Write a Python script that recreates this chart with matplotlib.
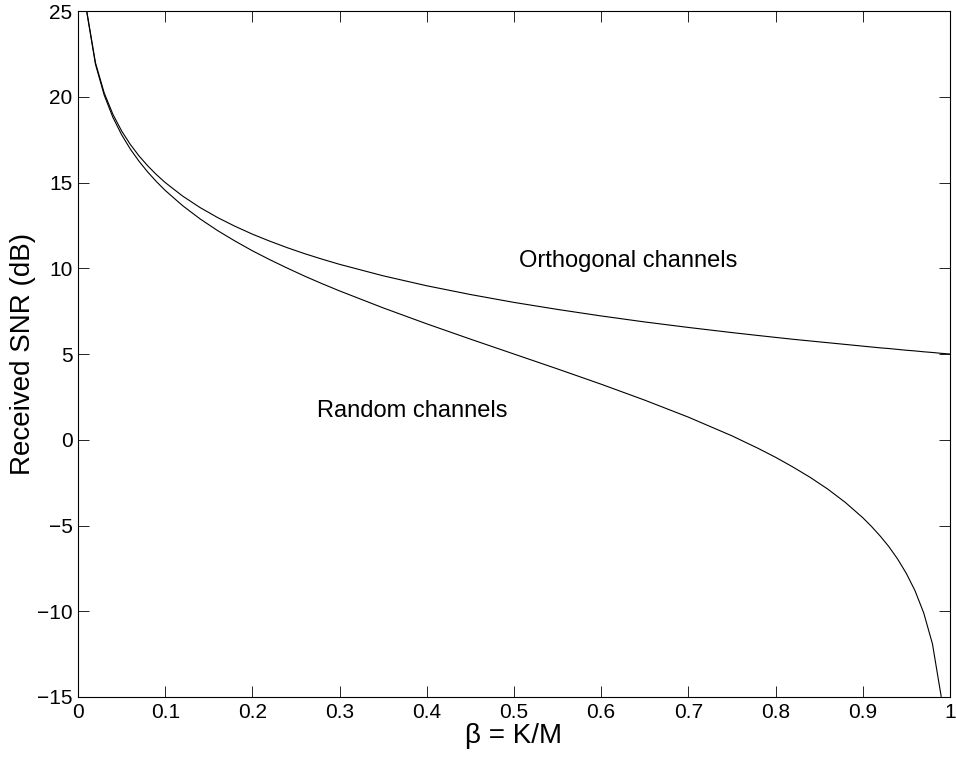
import matplotlib
matplotlib.use('Agg')
import matplotlib.pyplot as plt

plt.rcParams['font.family'] = ['Liberation Sans', 'DejaVu Sans']

# beta = K/M values and received SNR (dB)
beta = [0.01, 0.02, 0.03, 0.04, 0.05, 0.06, 0.07, 0.08, 0.09, 0.10,
        0.12, 0.14, 0.16, 0.18, 0.20, 0.22, 0.24, 0.26, 0.28, 0.30,
        0.35, 0.40, 0.45, 0.50, 0.55, 0.60, 0.65, 0.70, 0.75, 0.78,
        0.80, 0.82, 0.84, 0.86, 0.88, 0.90, 0.91, 0.92, 0.93, 0.94,
        0.95, 0.96, 0.97, 0.98, 0.99]

snr_orthogonal = [25.0, 21.99, 20.23, 18.98, 18.01, 17.22, 16.55, 15.97, 15.46, 15.0,
                  14.21, 13.54, 12.96, 12.45, 11.99, 11.58, 11.2, 10.85, 10.53, 10.23,
                  9.56, 8.98, 8.47, 8.01, 7.6, 7.22, 6.87, 6.55, 6.25, 6.08,
                  5.97, 5.86, 5.76, 5.66, 5.56, 5.46, 5.41, 5.36, 5.32, 5.27,
                  5.22, 5.18, 5.13, 5.09, 5.04]

snr_random = [24.96, 21.9, 20.1, 18.8, 17.79, 16.95, 16.24, 15.61, 15.05, 14.54,
              13.65, 12.88, 12.2, 11.59, 11.02, 10.5, 10.01, 9.54, 9.1, 8.68,
              7.69, 6.76, 5.87, 5.0, 4.13, 3.24, 2.31, 1.32, 0.23, -0.5,
              -1.02, -1.59, -2.2, -2.88, -3.65, -4.54, -5.05, -5.61, -6.23, -6.95,
              -7.79, -8.8, -10.1, -11.9, -14.96]

# the orthogonal curve continues to beta = 1
beta_orth = beta + [1.0]
snr_orthogonal = snr_orthogonal + [5.0]

fig = plt.figure(figsize=(9.56, 7.61), dpi=100)
ax = fig.add_axes([0.0816, 0.0841, 0.912, 0.9014])

ax.plot(beta_orth, snr_orthogonal, color='black', linewidth=0.8)
ax.plot(beta, snr_random, color='black', linewidth=0.8)

ax.text(0.506, 10.45, 'Orthogonal channels', fontsize=17, va='center', ha='left')
ax.text(0.274, 1.7, 'Random channels', fontsize=17, va='center', ha='left')

ax.set_xlim(0, 1)
ax.set_ylim(-15, 25)
ax.set_xticks([0, 0.1, 0.2, 0.3, 0.4, 0.5, 0.6, 0.7, 0.8, 0.9, 1])
ax.set_xticklabels(['0', '0.1', '0.2', '0.3', '0.4', '0.5', '0.6', '0.7', '0.8', '0.9', '1'])
ax.set_yticks(range(-15, 26, 5))
ax.tick_params(direction='in', top=True, right=True, length=8, width=0.6, labelsize=15, pad=4)
for s in ax.spines.values():
    s.set_linewidth(0.8)

ax.set_xlabel('β = K/M', fontsize=20, labelpad=1)
ax.set_ylabel('Received SNR (dB)', fontsize=20, labelpad=0.5)

fig.savefig('out.png', dpi=100)
